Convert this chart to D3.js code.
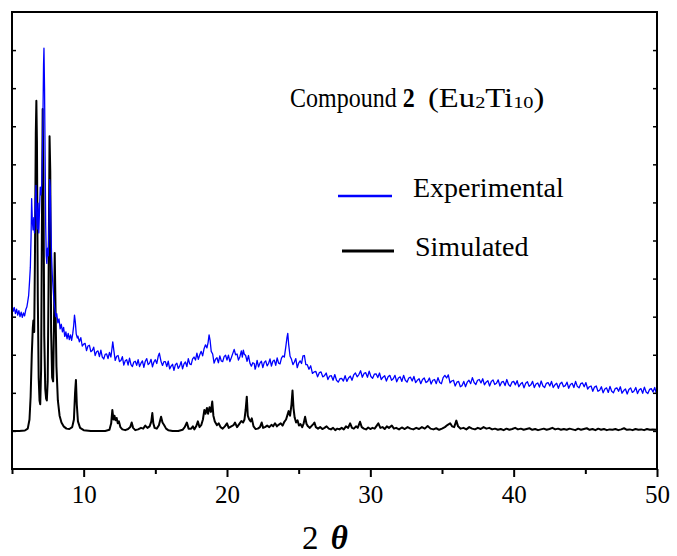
<!DOCTYPE html>
<html>
<head>
<meta charset="utf-8">
<script src="https://cdn.jsdelivr.net/npm/d3@7"></script>
<style>
  body { margin: 0; background: #fff; }
  text { font-family: "Liberation Serif", "Times New Roman", serif; }
</style>
</head>
<body>
<svg width="677" height="556"></svg>
<script>
var svg = d3.select("svg");
var exp_color = "#0000ff";
var sim_color = "#000000";

// x ticks (2 theta)
var majorTicks = [10, 20, 30, 40, 50];
var minorTicks = [5, 15, 25, 35, 45];
var yTicks = [1, 2, 3, 4, 5, 6, 7, 8, 9, 10, 11];

// experimental pattern [2theta, intensity a.u.]
var experimental = [
  [5.00,4.31],[5.08,4.14],[5.16,4.24],[5.24,4.08],[5.32,4.20],[5.40,4.04],[5.48,4.16],[5.56,4.00],
  [5.64,4.12],[5.72,3.98],[5.80,4.10],[5.88,4.02],[5.96,4.18],[6.04,4.26],[6.10,4.40],[6.16,4.55],
  [6.22,4.90],[6.28,5.30],[6.33,6.10],[6.37,7.10],[6.42,6.50],[6.47,6.28],[6.52,6.60],[6.57,6.20],
  [6.62,6.90],[6.67,7.45],[6.72,6.60],[6.77,6.30],[6.82,6.98],[6.87,6.20],[6.92,6.80],[6.97,7.40],
  [7.02,7.20],[7.08,7.50],[7.13,8.40],[7.17,9.60],[7.20,10.60],[7.23,11.05],[7.27,10.00],[7.31,8.20],
  [7.35,6.40],[7.39,5.60],[7.43,5.40],[7.48,5.80],[7.53,5.60],[7.58,6.40],[7.63,7.60],[7.67,7.40],
  [7.71,6.50],[7.76,5.60],[7.81,5.10],[7.86,4.80],[7.92,4.45],[7.98,4.25],[8.05,4.00],[8.12,4.08],
  [8.20,3.84],[8.28,3.94],[8.36,3.68],[8.44,3.80],[8.52,3.60],[8.60,3.72],[8.68,3.48],[8.76,3.60],
  [8.84,3.42],[8.92,3.56],[9.00,3.40],[9.08,3.52],[9.16,3.38],[9.24,3.56],[9.30,3.75],[9.36,4.04],
  [9.42,3.85],[9.48,3.55],[9.56,3.44],
  [9.60,3.49],[9.70,3.34],[9.80,3.45],[9.90,3.23],[10.00,3.28],[10.10,3.30],[10.20,3.11],[10.30,3.23],
  [10.40,3.25],[10.50,3.08],[10.60,3.11],[10.70,3.20],[10.80,2.98],[10.90,3.08],[11.00,3.10],[11.10,2.95],
  [11.20,3.12],[11.30,2.94],[11.40,2.89],[11.50,3.01],[11.60,3.02],[11.70,2.90],[11.80,3.06],[11.90,2.94],
  [11.97,3.15],[12.03,3.34],[12.10,3.13],[12.20,2.85],[12.30,2.96],[12.40,2.98],[12.50,2.82],[12.60,2.85],
  [12.70,2.95],[12.80,2.73],[12.90,2.84],[13.00,2.87],[13.10,2.73],[13.20,2.91],[13.30,2.74],[13.40,2.69],
  [13.50,2.81],[13.60,2.83],[13.70,2.72],[13.80,2.87],[13.90,2.69],[14.00,2.78],[14.10,2.84],[14.20,2.67],
  [14.30,2.83],[14.40,2.90],[14.50,2.74],[14.60,2.78],[14.70,2.88],[14.80,2.68],[14.90,2.81],[15.00,2.87],
  [15.10,2.77],[15.20,2.96],[15.28,3.04],[15.40,2.82],[15.50,2.72],[15.60,2.82],[15.70,2.82],[15.80,2.69],
  [15.90,2.83],[16.00,2.63],[16.10,2.70],[16.20,2.75],[16.30,2.59],[16.40,2.74],[16.50,2.78],[16.60,2.64],
  [16.70,2.70],[16.80,2.82],[16.90,2.63],[17.00,2.76],[17.10,2.81],[17.20,2.69],[17.30,2.90],[17.40,2.76],
  [17.50,2.74],[17.60,2.89],[17.70,2.94],[17.80,2.86],[17.90,3.04],[18.00,2.88],[18.10,3.00],[18.20,3.09],
  [18.30,2.97],[18.40,3.16],[18.50,3.26],[18.60,3.18],[18.68,3.32],[18.75,3.52],[18.82,3.38],[18.90,3.09],
  [19.00,3.02],[19.10,2.78],[19.20,2.88],[19.30,2.92],[19.40,2.79],[19.50,2.97],[19.60,2.84],[19.70,2.82],
  [19.80,2.95],[19.90,2.99],[20.00,2.86],[20.10,2.99],[20.20,2.82],[20.30,2.92],[20.40,3.03],[20.50,3.14],
  [20.60,3.00],[20.70,3.02],[20.80,2.86],[20.90,2.95],[21.00,3.10],[21.07,2.94],[21.14,3.12],[21.20,3.02],
  [21.30,2.98],[21.40,2.83],[21.50,2.98],[21.60,2.78],[21.70,2.70],[21.80,2.79],[21.90,2.77],[21.96,2.62],
  [22.00,2.66],[22.10,2.85],[22.20,2.68],[22.30,2.78],[22.40,2.83],[22.50,2.66],[22.60,2.80],[22.70,2.84],
  [22.80,2.71],[22.90,2.77],[23.00,2.89],[23.10,2.70],[23.20,2.83],[23.30,2.86],[23.40,2.72],[23.50,2.92],
  [23.60,2.78],[23.70,2.76],[23.80,2.91],[23.90,2.97],[24.00,2.94],[24.10,3.20],[24.18,3.44],[24.24,3.56],
  [24.30,3.28],[24.40,2.96],[24.50,2.88],[24.60,2.74],[24.70,2.81],[24.80,2.90],[24.90,2.66],[25.00,2.78],
  [25.10,2.84],[25.20,2.77],[25.30,2.97],[25.40,2.98],[25.50,2.74],
  [25.60,2.74],[25.72,2.62],[25.84,2.71],[25.96,2.51],[26.08,2.55],[26.20,2.56],[26.32,2.42],[26.44,2.53],
  [26.56,2.55],[26.68,2.42],[26.80,2.45],[26.92,2.52],[27.04,2.35],[27.16,2.44],[27.28,2.45],[27.40,2.33],
  [27.52,2.48],[27.64,2.33],[27.76,2.28],[27.88,2.37],[28.00,2.38],[28.12,2.31],[28.24,2.45],[28.36,2.30],
  [28.48,2.39],[28.60,2.44],[28.72,2.33],[28.84,2.47],[28.96,2.52],[29.08,2.42],[29.20,2.48],[29.32,2.58],
  [29.44,2.41],[29.56,2.51],[29.68,2.53],[29.80,2.41],[29.92,2.57],[30.04,2.43],[30.16,2.38],[30.28,2.49],
  [30.40,2.50],[30.52,2.40],[30.64,2.52],[30.76,2.35],[30.88,2.41],[31.00,2.45],[31.12,2.31],[31.24,2.42],
  [31.36,2.46],[31.48,2.33],[31.60,2.37],[31.72,2.46],[31.84,2.29],[31.96,2.39],[32.08,2.42],[32.20,2.30],
  [32.32,2.46],[32.44,2.33],[32.56,2.28],[32.68,2.39],[32.80,2.41],[32.92,2.31],[33.04,2.43],[33.16,2.27],
  [33.28,2.33],[33.40,2.37],[33.52,2.24],[33.64,2.35],[33.76,2.39],[33.88,2.27],[34.00,2.30],[34.12,2.39],
  [34.24,2.23],[34.36,2.33],[34.48,2.35],[34.60,2.24],[34.72,2.40],[34.84,2.27],[34.96,2.24],[35.08,2.40],
  [35.20,2.46],[35.32,2.39],[35.44,2.47],[35.56,2.26],[35.68,2.31],[35.80,2.33],[35.92,2.18],[36.04,2.28],
  [36.16,2.30],[36.28,2.16],[36.40,2.19],[36.52,2.30],[36.64,2.16],[36.76,2.28],[36.88,2.33],[37.00,2.24],
  [37.12,2.40],[37.24,2.27],[37.36,2.22],[37.48,2.33],[37.60,2.35],[37.72,2.26],[37.84,2.37],[37.96,2.21],
  [38.08,2.28],[38.20,2.32],[38.32,2.18],[38.44,2.30],[38.56,2.34],[38.68,2.22],[38.80,2.25],[38.92,2.34],
  [39.04,2.18],[39.16,2.28],[39.28,2.30],[39.40,2.19],[39.52,2.35],[39.64,2.22],[39.76,2.17],[39.88,2.28],
  [40.00,2.30],[40.12,2.21],[40.24,2.32],[40.36,2.16],[40.48,2.23],[40.60,2.27],[40.72,2.13],[40.84,2.25],
  [40.96,2.29],[41.08,2.17],[41.20,2.21],[41.32,2.30],[41.44,2.14],[41.56,2.23],[41.68,2.26],[41.80,2.15],
  [41.92,2.31],[42.04,2.18],[42.16,2.14],[42.28,2.25],[42.40,2.27],[42.52,2.18],[42.64,2.30],[42.76,2.14],
  [42.88,2.21],[43.00,2.25],[43.12,2.12],[43.24,2.24],[43.36,2.28],[43.48,2.16],[43.60,2.19],[43.72,2.28],
  [43.84,2.12],[43.96,2.22],[44.08,2.25],[44.20,2.14],[44.32,2.30],[44.44,2.17],[44.56,2.13],[44.68,2.24],
  [44.80,2.26],[44.92,2.16],[45.04,2.27],[45.16,2.10],[45.28,2.16],[45.40,2.18],[45.52,2.04],[45.64,2.15],
  [45.76,2.18],[45.88,2.04],[46.00,2.07],[46.12,2.16],[46.24,2.00],[46.36,2.10],[46.48,2.13],[46.60,2.01],
  [46.72,2.17],[46.84,2.04],[46.96,2.00],[47.08,2.11],[47.20,2.13],[47.32,2.04],[47.44,2.16],[47.56,1.99],
  [47.68,2.06],[47.80,2.10],[47.92,1.97],[48.04,2.09],[48.16,2.13],[48.28,2.01],[48.40,2.05],[48.52,2.14],
  [48.64,1.98],[48.76,2.08],[48.88,2.11],[49.00,1.99],[49.12,2.15],[49.24,2.02],[49.36,1.98],[49.48,2.09],
  [49.60,2.11],[49.72,2.02],[49.84,2.14],[49.96,1.98],[50.00,2.05]
];

// simulated pattern [2theta, intensity a.u.]
var simulated = [
  [5.00,1.00],[5.50,1.00],[5.90,1.01],[6.10,1.06],[6.22,1.30],[6.30,1.90],[6.38,3.00],[6.45,3.70],
  [6.49,3.90],[6.55,3.60],[6.60,5.50],[6.66,8.80],[6.70,9.67],[6.74,8.60],[6.80,4.50],[6.86,2.40],
  [6.92,1.80],[6.97,1.70],[7.03,2.60],[7.09,6.50],[7.14,9.45],[7.19,7.80],[7.25,3.50],[7.32,2.10],
  [7.38,1.85],[7.43,1.80],[7.49,2.30],[7.55,4.80],[7.62,8.74],[7.67,7.80],[7.73,3.60],[7.80,2.40],
  [7.87,2.30],[7.93,3.80],[7.98,5.67],[8.03,4.40],[8.10,2.70],[8.20,1.80],[8.32,1.40],[8.45,1.22],
  [8.60,1.12],[8.80,1.06],[9.00,1.05],[9.20,1.10],[9.32,1.30],[9.40,2.00],[9.46,2.34],[9.52,1.70],
  [9.60,1.25],[9.75,1.08],[10.00,1.02],[10.50,1.00],[11.00,1.00],[11.50,1.00],[11.80,1.03],[11.92,1.20],
  [12.00,1.55],[12.08,1.30],[12.15,1.40],[12.22,1.28],[12.30,1.34],[12.38,1.20],[12.46,1.25],[12.56,1.10],
  [12.70,1.04],[12.90,1.02],[13.10,1.05],[13.25,1.10],[13.35,1.22],[13.45,1.08],[13.60,1.02],[13.80,1.04],
  [14.00,1.08],[14.15,1.06],[14.30,1.14],[14.45,1.08],[14.60,1.12],[14.72,1.25],[14.79,1.47],[14.86,1.20],
  [14.95,1.08],[15.10,1.06],[15.25,1.15],[15.40,1.37],[15.50,1.22],[15.62,1.15],[15.75,1.06],[15.90,1.02],
  [16.20,1.00],[16.60,1.00],[16.90,1.03],[17.05,1.10],[17.20,1.22],[17.32,1.06],[17.50,1.06],[17.62,1.12],
  [17.72,1.04],[17.85,1.12],[17.97,1.25],[18.08,1.10],[18.20,1.15],[18.32,1.30],[18.42,1.55],[18.50,1.45],
  [18.60,1.60],[18.68,1.45],[18.78,1.62],[18.88,1.50],[18.97,1.77],[19.05,1.40],[19.15,1.25],[19.30,1.15],
  [19.42,1.20],[19.55,1.10],[19.70,1.06],[19.85,1.12],[20.00,1.20],[20.12,1.08],[20.30,1.12],[20.45,1.15],
  [20.56,1.22],[20.70,1.10],[20.85,1.18],[21.00,1.26],[21.12,1.22],[21.22,1.30],[21.30,1.55],[21.38,1.90],
  [21.45,1.40],[21.55,1.30],[21.65,1.25],[21.73,1.33],[21.85,1.12],[22.00,1.05],[22.15,1.06],[22.30,1.10],
  [22.42,1.22],[22.52,1.08],[22.65,1.10],[22.80,1.14],[22.95,1.10],[23.10,1.16],[23.22,1.12],[23.35,1.20],
  [23.48,1.12],[23.60,1.16],[23.75,1.20],[23.88,1.14],[24.00,1.24],[24.12,1.30],[24.22,1.42],[24.30,1.52],
  [24.40,1.40],[24.50,1.70],[24.57,2.06],[24.64,1.60],[24.72,1.35],[24.82,1.22],[24.92,1.28],[25.02,1.14],
  [25.12,1.18],[25.25,1.10],[25.35,1.20],[25.45,1.37],[25.55,1.18],[25.65,1.12],[25.78,1.08],[25.92,1.14],
  [26.02,1.18],[26.10,1.22],[26.20,1.10],[26.35,1.06],[26.50,1.10],[26.65,1.05],[26.80,1.08],[26.95,1.12],
  [27.10,1.06],[27.25,1.04],[27.40,1.08],[27.55,1.02],[27.70,1.06],[27.85,1.04],[28.00,1.08],[28.15,1.04],
  [28.30,1.12],[28.45,1.08],[28.59,1.20],[28.72,1.08],[28.85,1.06],[29.00,1.12],[29.12,1.08],[29.28,1.24],
  [29.40,1.10],[29.55,1.06],[29.70,1.04],[29.85,1.09],[30.00,1.05],[30.15,1.08],[30.30,1.06],[30.45,1.14],
  [30.56,1.20],[30.70,1.08],[30.85,1.10],[31.00,1.05],[31.15,1.12],[31.30,1.08],[31.50,1.14],[31.65,1.06],
  [31.80,1.08],[32.00,1.04],[32.20,1.09],[32.40,1.05],[32.60,1.10],[32.80,1.06],[33.00,1.04],[33.20,1.08],
  [33.40,1.05],[33.60,1.10],[33.80,1.06],[34.00,1.13],[34.20,1.06],[34.40,1.04],[34.60,1.07],[34.80,1.03],
  [35.00,1.06],[35.20,1.10],[35.40,1.16],[35.57,1.20],[35.70,1.12],[35.85,1.10],[36.00,1.27],[36.12,1.12],
  [36.30,1.06],[36.50,1.08],[36.70,1.04],[36.90,1.10],[37.10,1.06],[37.30,1.04],[37.50,1.08],[37.70,1.05],
  [37.90,1.10],[38.10,1.06],[38.30,1.08],[38.50,1.04],[38.70,1.06],[38.90,1.03],[39.10,1.05],[39.30,1.02],
  [39.50,1.06],[39.70,1.03],[39.90,1.05],[40.10,1.08],[40.30,1.04],[40.50,1.06],[40.70,1.03],[40.90,1.05],
  [41.10,1.07],[41.30,1.03],[41.50,1.05],[41.70,1.02],[41.90,1.04],[42.10,1.06],[42.30,1.03],[42.50,1.05],
  [42.70,1.08],[42.90,1.04],[43.10,1.06],[43.30,1.03],[43.50,1.05],[43.70,1.03],[43.90,1.06],[44.10,1.04],
  [44.30,1.02],[44.50,1.06],[44.70,1.03],[44.90,1.05],[45.10,1.07],[45.30,1.03],[45.50,1.05],[45.70,1.02],
  [45.90,1.06],[46.10,1.03],[46.30,1.05],[46.50,1.02],[46.70,1.04],[46.90,1.03],[47.10,1.05],[47.30,1.02],
  [47.50,1.04],[47.70,1.07],[47.90,1.03],[48.10,1.04],[48.30,1.02],[48.50,1.05],[48.70,1.03],[48.90,1.04],
  [49.10,1.02],[49.30,1.05],[49.50,1.03],[49.70,1.04],[50.00,1.03]
];

// plot frame (avoid the name "top", it is window.top)
var frameL = 12, frameR = 657, frameT = 12, frameB = 469;

var x = d3.scaleLinear().domain([5, 50]).range([frameL, frameR]);
var y = d3.scaleLinear().domain([0, 12]).range([frameB, frameT]);

var line = d3.line()
    .x(function(d) { return x(d[0]); })
    .y(function(d) { return y(d[1]); });

// pattern lines
svg.append("path")
   .datum(simulated)
   .attr("d", line)
   .attr("fill", "none")
   .attr("stroke", sim_color)
   .attr("stroke-width", 2)
   .attr("stroke-linejoin", "round");

svg.append("path")
   .datum(experimental)
   .attr("d", line)
   .attr("fill", "none")
   .attr("stroke", exp_color)
   .attr("stroke-width", 1.3)
   .attr("stroke-linejoin", "round");

// x axis, major + minor ticks
var xMajor = svg.append("g")
   .attr("transform", "translate(0," + frameB + ")")
   .call(d3.axisBottom(x).tickValues(majorTicks).tickSize(8).tickSizeOuter(0).tickPadding(8));
xMajor.select(".domain").remove();
xMajor.selectAll("line").attr("stroke-width", 2);
xMajor.selectAll("text")
   .style("font-family", "'Liberation Serif', 'Times New Roman', serif")
   .style("font-size", "25px")
   .attr("fill", "#000");

var xMinor = svg.append("g")
   .attr("transform", "translate(0," + frameB + ")")
   .call(d3.axisBottom(x).tickValues(minorTicks).tickSize(5).tickSizeOuter(0).tickFormat(""));
xMinor.select(".domain").remove();
xMinor.selectAll("line").attr("stroke-width", 2);

// small inward ticks on left and right frame
var yLeft = svg.append("g")
   .attr("transform", "translate(" + frameL + ",0)")
   .call(d3.axisRight(y).tickValues(yTicks).tickSize(4).tickFormat(""));
yLeft.select(".domain").remove();
yLeft.selectAll("line").attr("stroke-width", 1.5);

var yRight = svg.append("g")
   .attr("transform", "translate(" + frameR + ",0)")
   .call(d3.axisLeft(y).tickValues(yTicks).tickSize(4).tickFormat(""));
yRight.select(".domain").remove();
yRight.selectAll("line").attr("stroke-width", 1.5);

// frame
svg.append("rect")
   .attr("x", frameL)
   .attr("y", frameT)
   .attr("width", frameR - frameL)
   .attr("height", frameB - frameT)
   .attr("fill", "none")
   .attr("stroke", "#000")
   .attr("stroke-width", 2);

// x axis title "2 θ"
var xt = svg.append("text")
   .attr("x", 302)
   .attr("y", 549)
   .style("font-size", "33px");
xt.append("tspan").text("2 ");
xt.append("tspan")
  .attr("dx", 4)
  .style("font-weight", "bold")
  .style("font-style", "italic")
  .text("θ");

// title: "Compound 2" then the (wider) formula part
var title = svg.append("text")
   .attr("transform", "translate(290,107) scale(1,1.15)")
   .style("font-size", "24px");
title.append("tspan").text("Compound ");
title.append("tspan").style("font-weight", "bold").text("2");

var formula = svg.append("text")
   .attr("transform", "translate(428,107) scale(1.36,1.15)")
   .style("font-size", "24px");
formula.append("tspan").text("(Eu");
formula.append("tspan").style("font-size", "15px").attr("dy", 1).text("2");
formula.append("tspan").attr("dy", -1).text("Ti");
formula.append("tspan").style("font-size", "15px").attr("dy", 1).text("10");
formula.append("tspan").attr("dy", -1).text(")");

// legend
var legend = [
  {label: "Experimental", color: exp_color, width: 2.5, ly: 196, x1: 338, x2: 392, tx: 413, ty: 197},
  {label: "Simulated", color: sim_color, width: 3, ly: 251, x1: 342, x2: 394, tx: 415, ty: 256}
];
legend.forEach(function(l) {
  svg.append("line")
     .attr("x1", l.x1).attr("x2", l.x2)
     .attr("y1", l.ly).attr("y2", l.ly)
     .attr("stroke", l.color)
     .attr("stroke-width", l.width);
  svg.append("text")
     .attr("x", l.tx)
     .attr("y", l.ty)
     .style("font-size", "28px")
     .text(l.label);
});
</script>
</body>
</html>
